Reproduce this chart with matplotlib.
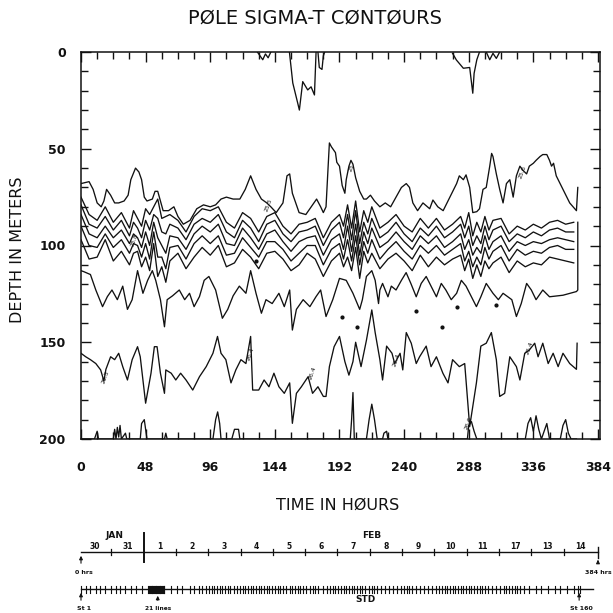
import matplotlib
matplotlib.use("Agg")
import matplotlib.pyplot as plt

plt.rcParams['font.family'] = ['DejaVu Sans']

# ---------------- data (time in hours, depth in metres) ----------------
A_PTS = [(0,68),(6,67),(9,71),(12,78),(15,80),(17,77),(19,71),(22,74),(25,78),(28,78),(32,77),(35,74),
         (37,66),(40.5,60),(43,62),(45,66),(47,75),(49,77),(53,76),(55,72),(57,72),(61,82),(65,82),(69,80),
         (72,85),(76,89),(81,87),(86,81),(91,79),(96,80),(100,79),(104,76),(108,75),(113,76),(118,76),
         (122,71),(126,64),(130,71),(134,76),(138,78),(141,80),(145,83),(150,78),(153,64),(155,63),(157,73),
         (162,83),(167,84),(171,80),(175,76),(178,80),(180,83),(182,80),(183.5,60),(184.5,47),(186,49),
         (189,52),(190,57),(192,59),(194,69),(196,73),(197,66),(199,59),(200.5,56),(202,58),(204,65),
         (207,72),(210,76),(212,76),(215,74),(218,77),(222,80),(226,78),(230,80),(234,75),(238,70),
         (241.6,68),(244,70),(246.5,78),(250,82),(254,78),(259,81),(261.4,76.5),(265,80),(269,82),(274,75),
         (279,68),(281,64),(284,66),(286,63.5),(288.7,70),(291,83),(294,82.5),(296,81),(298.6,71),(301,70),
         (303.6,59),(305,52.4),(306,54),(308.5,63),(311,71),(313.5,78),(316,68),(318.5,66),(321,75),
         (323.4,64),(326,59),(328,61),(331,63),(333,59),(336,57.5),(338,56),(341,54),(343,53),(346,53),
         (348,56),(349.5,59),(351,57.5),(353,64),(358,71),(363,78),(368,82),(369,70)]

BUNDLE_T = [0,6,12,18,24,30,36,39,42,45,48,51,54,57,60,63,66,72,78,84,90,96,102,108,114,120,126,132,
            138,144,150,156,162,168,174,180,186,192,195,198,201,204,207,210,213,216,222,228,234,240,246,
            252,258,264,270,276,282,285,288,291,294,297,300,303,306,312,318,324,330,336,342,348,354,360,366]
B1 = [75,84,87,80,88,83,91,82,86,90,81,84,80,76,86,85,84,87,93,85,81,82,80,88,91,83,86,93,85,83,90,94,89,
      88,86,96,88,84,90,79,91,77,93,82,88,80,91,88,84,90,93,86,91,86,92,89,85,91,83,95,88,93,85,92,87,86,
      94,90,92,89,91,88,87,89,88]
B2 = [79,89,91,85,92,87,95,88,91,96,87,92,84,86,93,94,89,91,97,89,86,88,84,93,96,87,91,98,89,87,94,98,93,
      92,90,100,92,88,96,84,97,82,99,88,94,86,96,93,88,94,98,91,95,90,96,93,89,96,90,100,95,99,90,97,92,90,
      98,94,96,93,95,92,91,93,93]
B3 = [84,94,96,90,96,92,99,94,96,101,93,100,88,96,100,104,95,96,102,94,90,93,89,99,100,91,96,102,94,92,98,103,98,
      96,95,105,97,94,102,90,103,89,105,93,99,91,101,98,93,98,102,95,99,95,101,98,94,102,97,105,101,104,95,102,98,95,
      103,98,100,98,99,97,96,97,98]
B4 = [90,100,101,94,101,97,104,99,100,106,99,107,93,106,106,112,101,100,107,99,95,99,95,105,104,96,101,106,98,98,102,108,104,
      100,100,110,102,99,107,97,108,95,110,98,104,97,107,102,98,103,107,100,104,100,105,102,99,108,103,111,106,110,101,107,103,100,
      108,102,105,103,104,101,100,102,102]
B5 = [97,107,106,97,108,103,110,104,103,111,106,113,99,116,111,119,108,104,112,106,101,105,100,111,109,102,106,112,104,103,107,113,110,
      104,107,116,108,104,111,106,113,101,117,103,109,104,112,107,104,108,113,105,111,106,110,107,105,113,107,117,110,116,108,112,109,106,
      114,108,111,109,110,106,107,108,109]

C_PTS = [(0,113),(2,113.5),(7,115),(11,123),(16,131.6),(19.6,126.4),(23,123),(27,128),(31,121),(34.5,133),(38,128),
         (42,113),(46,124.7),(49.5,118),(53,113),(55.5,118),(59,128),(62,142),(64,128),(68,126),(73,123),(77,128),
         (80.6,124.7),(84,131.6),(88,126.4),(91.5,118),(95,116),(100,123),(105,137.6),(109,133),(113,126),(117.6,121),
         (122.5,124.7),(126,113),(130,124.7),(134,135),(137.4,128),(142,130),(147,124.7),(151,131.6),(155,123),
         (157,143.7),(160,133),(165,128),(170,131.6),(174.6,126.4),(178,123),(182,136.7),(187,128),(192,117),
         (197,118),(202,124.7),(207,133),(209,128),(212,116),(216,113),(218.5,118),(221,130),(222,123),(224,119.6),
         (228,126.5),(230.5,121),(234,123),(238,118),(241.5,114),(245,119.6),(249,126.5),(252.7,119.6),(256.4,116),
         (260,121),(264,126.5),(267.6,119.6),(271,123),(275,128),(279,124.7),(282.5,118),(286,121),(290,126.5),
         (293.7,131.6),(297,126.5),(301,119.6),(306,124.7),(310,128),(313.5,124.7),(320,128),(323.4,136.7),(327,130),
         (331,119.6),(334.5,123),(338,128),(343,123),(348,126.5),(358,125.7),(368,123.8),(369,123),(369,88)]

D_PTS = [(0,155.7),(3.5,157.5),(7,159),(11,161),(14.6,164.3),(17,170),(18.5,164),(22,157.5),(25,159),(28,155.7),
         (31,162.6),(34.5,169.5),(38,159),(42,152.3),(44,157.5),(48,181.5),(52,166),(54.5,152.3),(56.5,152.3),(59,166),
         (62,176.4),(63,164.3),(67,166),(70.4,169.5),(74,166),(78,169.5),(83,174.7),(88,167.8),(93,162.6),(98,155.7),
         (101.4,147),(104,155.7),(107.6,159),(111.4,171),(115,164.3),(118.8,159),(122.5,161),(126,147),(127.5,174.7),
         (132,174.7),(136,169.5),(139.6,173),(143.3,166),(147,173),(151,176.4),(155,171),(157,191.9),(160,176.4),
         (163.7,173),(168.7,167.8),(172,176.4),(176,173),(180,178),(182,178),(184.5,162.6),(188,152.3),(192,147),
         (196,160),(199,167),(202,160),(204,150),(208,162.6),(212,149),(216,133.3),(218.5,145),(222,159),(224,169.5),
         (227,152),(231,155.7),(233,161),(237,155.7),(239,164.3),(241.6,145),(245.3,150.5),(249,161),(251.5,157.5),
         (256.4,152),(260,162.6),(264,157.5),(268.8,166),(272.6,171),(276,159),(281,162.6),(285,161),(288.7,193.6),
         (293.7,171),(297,152),(301,150.5),(304.8,145),(308.5,159),(311,178),(314.7,176.4),(318.5,157.5),(323.4,162.6),
         (326,169.5),(329.6,155.7),(333,154),(337,150.5),(339.5,157.5),(343,150.5),(347,161),(350.7,155.7),
         (354.4,162.6),(358,155.7),(363,161),(368,164),(368.5,150.5)]

E_PTS = [(0,200),(10,200),(12,196),(13,200),(24,200),(25,195),(26,200),(27,194),(28,199),(29,193),(30,200),
         (33,197),(34,200),(44,200),(45,192),(47,190),(49,200),(62,200),(63,197),(64,200),(98,200),(100,190),
         (101.5,186),(103,192),(104,200),(112,200),(114,195),(117,195),(118,200),(200,200),(201,190),(202,176),
         (203,200),(212,200),(214,190),(216,182),(218,190),(220,200),(224,200),(225,197),(227,196),(228,200),
         (287,200),(288,193),(290,191),(292,196),(294,200),(330,200),(332,192),(334,189),(336,196),(338,188),
         (340,195),(342,200),(344,196),(346,192),(348,200),(356,200),(358,193),(360,190),(362,197),(364,200),(368,200)]

TOP1 = [(131,0),(133,2),(135,4),(137,1),(139,3),(141,0)]
TOP2 = [(154.8,0),(157.3,16),(161,26.5),(162.2,30),(164.7,15.3),(168.4,19.6),(170.9,18),(173.4,22.2),(174.6,0)]
TOP3 = [(176,0),(177,8),(179,9),(180,2),(181,0)]
TOP4 = [(276,0.7),(278.8,4.1),(284,8.4),(288.7,8),(291,21.3),(292,11),(294,4),(296,0)]
TOP5 = [(301,0),(303.6,4),(306,0.7),(308.5,3.3),(311,0)]

CONTOUR_LABELS = [("26.5",18,168),("25.5",139,79),("26.4",126,156),("26.4",172,166),("25",201,60),
                  ("25.6",328,62),("26.4",234,159),("26.4",333,153),("26.6",288,192),("25.8",40,97)]
DOTS = [(194,137),(205,142),(249,134),(268,142),(279,132),(308,131),(130,108)]

X_TICKS = [0,48,96,144,192,240,288,336,384]
Y_TICKS = [0,50,100,150,200]

DAY_LABELS = ["30","31","1","2","3","4","5","6","7","8","9","10","11","17","13","14"]
DAY_CENTRES = [10.5,34.5,58.5,82.5,106.5,130.5,154.5,178.5,202.5,226.5,250.5,274.5,298.5,322.5,346.5,371]
DAY_TICKS = [22.5,70.5,94.5,118.5,142.5,166.5,190.5,214.5,238.5,262.5,286.5,310.5,334.5,358.5]
MONTH_BOUNDARY = 46.5

STATIONS = [0,4,7,11,14,18,22,26,29,33,37,41,45,
            50,50.6,51.2,51.8,52.4,53,53.6,54.2,54.8,55.4,56,56.6,57.2,57.8,58.4,59,59.6,60.2,60.8,61.4,62,
            67,71,75,81,84,
            88,90,93,95,97,99,101,103,105,107,109,111,114,116,118,120,122,124,126,128,130,132,134,136,138,140,
            142,144,146,148,150,152,155,157,159,161,163,165,167,170,172,174,176,180,183,185,187,189,191,193,195,
            197,199,201,203,205,207,209,211,214,216,218,220,223,226,229,232,235,238,240,242,244,246,249,252,255,
            258,261,264,266,268,270,272,274,276,278,280,282,284,286,288,290,292,294,296,298,300,302,305,308,311,
            314,316,318,320,322,324,326,329,333,338,342,347,352,356,361,366,369,371]

# ---------------- figure ----------------
W = 613
fig = plt.figure(figsize=(6.13, 6.13), dpi=100)
fig.patch.set_facecolor('white')
ax = fig.add_axes([81/W, 1-439/W, 519/W, 387/W])
INK = '#111111'
LW = 0.95

def unzip(pts):
    return [p[0] for p in pts], [p[1] for p in pts]

for pts in (A_PTS, C_PTS, D_PTS, E_PTS, TOP1, TOP2, TOP3, TOP4, TOP5):
    t, d = unzip(pts)
    ax.plot(t, d, color=INK, lw=LW, clip_on=True)
for b in (B1, B2, B3, B4, B5):
    ax.plot(BUNDLE_T, b, color=INK, lw=LW)
for txt, t, d in CONTOUR_LABELS:
    ax.text(t, d, txt, fontsize=4.5, rotation=70, color=INK, ha='center', va='center')
dt, dd = unzip(DOTS)
ax.plot(dt, dd, 'o', ms=2, color=INK, mfc=INK)

ax.set_xlim(0, 385.5)
ax.set_ylim(200, 0)
ax.set_xticks(X_TICKS)
ax.set_xticks(range(0, 385, 12), minor=True)
ax.set_yticks(Y_TICKS)
ax.set_yticks(range(0, 201, 10), minor=True)
for s in ax.spines.values():
    s.set_linewidth(1.1)
    s.set_color(INK)
ax.tick_params(which='both', direction='in', top=True, right=True, color=INK, width=1.0)
ax.tick_params(which='major', length=7, labelsize=9, pad=16)
ax.tick_params(which='minor', length=5)
ax.tick_params(axis='y', which='major', pad=11)
for lab in ax.get_xticklabels() + ax.get_yticklabels():
    lab.set_fontweight('bold')
    lab.set_color(INK)

fig.text(315/W, 1-18/W, "PØLE SIGMA-T CØNTØURS", ha='center', va='center', fontsize=14, color=INK)
fig.text(18/W, 1-250/W, "DEPTH IN METERS", ha='center', va='center', rotation=90, fontsize=11.5, color=INK)
fig.text(338/W, 1-505/W, "TIME IN HØURS", ha='center', va='center', fontsize=11.5, color=INK)

# ---------------- timeline strip ----------------
ax2 = fig.add_axes([81/W, 0, 519/W, 93/W])
ax2.set_xlim(0, 385.5)
ax2.set_ylim(613, 520)
ax2.axis('off')
Y1, Y2 = 552, 589
ax2.plot([0, 384], [Y1, Y1], color=INK, lw=1.0, clip_on=False)
for t in DAY_TICKS:
    ax2.plot([t, t], [Y1-3, Y1+3], color=INK, lw=0.9, clip_on=False)
ax2.plot([MONTH_BOUNDARY]*2, [533, 562], color=INK, lw=1.4, clip_on=False)
ax2.plot([384, 384], [547, 558], color=INK, lw=1.0, clip_on=False)
for lab, t in zip(DAY_LABELS, DAY_CENTRES):
    ax2.text(t, Y1-1, lab, fontsize=5.5, fontweight='bold', ha='center', va='bottom', color=INK)
ax2.text(25, 536, "JAN", fontsize=6.5, fontweight='bold', ha='center', va='center', color=INK)
ax2.text(216, 536, "FEB", fontsize=6.5, fontweight='bold', ha='center', va='center', color=INK)
arrow = dict(arrowstyle='-|>', color=INK, lw=0.8, mutation_scale=5)
ax2.annotate("", xy=(0, Y1+1), xytext=(0, 566), arrowprops=arrow, annotation_clip=False)
ax2.text(2, 572, "0 hrs", fontsize=4.5, fontweight='bold', ha='center', va='center', color=INK)
ax2.annotate("", xy=(384, Y1+5), xytext=(384, 565), arrowprops=arrow, annotation_clip=False)
ax2.text(384, 572, "384 hrs", fontsize=4.5, fontweight='bold', ha='center', va='center', color=INK)

ax2.plot([0, 380], [Y2, Y2], color=INK, lw=1.0, clip_on=False)
for t in STATIONS:
    ax2.plot([t, t], [Y2-3.5, Y2+3.5], color=INK, lw=0.8, clip_on=False)
ax2.annotate("", xy=(0, Y2+1), xytext=(0, 603), arrowprops=arrow, annotation_clip=False)
ax2.text(2, 608, "St 1", fontsize=4.5, fontweight='bold', ha='center', va='center', color=INK)
ax2.annotate("", xy=(57, Y2+4), xytext=(57, 603), arrowprops=arrow, annotation_clip=False)
ax2.text(57, 608, "21 lines", fontsize=4.2, fontweight='bold', ha='center', va='center', color=INK)
ax2.text(211, 600, "STD", fontsize=6.5, fontweight='bold', ha='center', va='center', color=INK)
ax2.annotate("", xy=(370, Y2+1), xytext=(370, 603), arrowprops=arrow, annotation_clip=False)
ax2.text(372, 608, "St 160", fontsize=4.5, fontweight='bold', ha='center', va='center', color=INK)

fig.savefig("out.png", dpi=100, facecolor='white')
